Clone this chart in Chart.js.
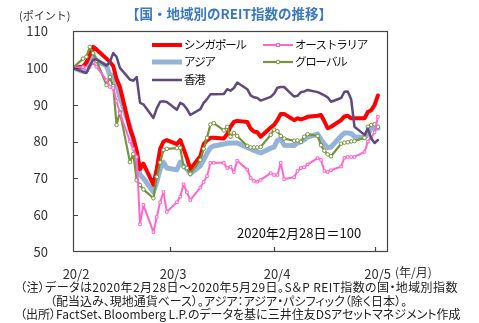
<!DOCTYPE html>
<html lang="ja">
<head>
<meta charset="utf-8">
<script src="https://cdn.jsdelivr.net/npm/chart.js@4"></script>
<style>
  body { margin: 0; background: #fff; }
  #wrap { position: relative; width: 479px; height: 323px; overflow: hidden; font-family: "Noto Sans CJK JP", sans-serif; color: #222; }
  #wrap canvas { position: absolute; left: 0; top: 0; }
  .txt { position: absolute; white-space: nowrap; line-height: 1; }
  .note { font-size: 12px; font-feature-settings: "palt"; }
</style>
</head>
<body>
<div id="wrap">
  <canvas id="chart" width="479" height="323"></canvas>
  <div class="txt" style="left:0;width:458px;text-align:center;top:7px;font-size:13.5px;font-weight:bold;color:#3a78c2">【国・地域別のREIT指数の推移】</div>
  <div class="txt" style="left:19px;top:10px;font-size:11px;color:#333">(ポイント)</div>
  <div class="txt" style="left:237px;top:226px;font-size:13px;color:#111">2020年2月28日＝100</div>
  <div class="txt" style="left:395px;top:266px;font-size:12px;color:#333">(年/月)</div>
  <div class="txt note" style="left:20px;top:281px;letter-spacing:0.4px">（注）データは2020年2月28日～2020年5月29日。S＆P REIT指数の国・地域別指数</div>
  <div class="txt note" style="left:50px;top:295px">（配当込み、現地通貨ベース）。アジア：アジア・パシフィック（除く日本）。</div>
  <div class="txt note" style="left:20px;top:308px">（出所）FactSet、Bloomberg L.P.のデータを基に三井住友DSアセットマネジメント作成</div>
</div>
<script>
// business days, 2020 (month/day)
const dates = [
  '2/28',
  '3/2', '3/3', '3/4', '3/5', '3/6', '3/9', '3/10', '3/11', '3/12', '3/13',
  '3/16', '3/17', '3/18', '3/19', '3/20', '3/23', '3/24', '3/25', '3/26', '3/27',
  '3/30', '3/31', '4/1', '4/2', '4/3', '4/6', '4/7', '4/8', '4/9', '4/10',
  '4/13', '4/14', '4/15', '4/16', '4/17', '4/20', '4/21', '4/22', '4/23', '4/24',
  '4/27', '4/28', '4/29', '4/30', '5/1', '5/4', '5/5', '5/6', '5/7', '5/8',
  '5/11', '5/12', '5/13', '5/14', '5/15', '5/18', '5/19', '5/20', '5/21', '5/22',
  '5/25', '5/26', '5/27', '5/28', '5/29'
];

const singapore = [100, 100.3, 101.5, 103.5, 105.7, 105, 102.5, 101.6, 100.5, 97, 94.8,
  83.5, 81, 77.5, 72.5, 74, 68.3, 72.5, 78, 80, 80.4,
  79.3, 80.4, 78, 75.5, 72.5, 76, 79.3, 80.3, 81, 81,
  80.8, 82, 84, 85.3, 85.6, 85.3, 83.5, 82.7, 82.5, 81.3,
  83.8, 84.5, 85.8, 87.5, 87.5, 85.8, 86.3, 86, 86.3, 86.7,
  87, 87.2, 85.5, 83.6, 84, 85.8, 86.8, 87, 86.3, 86.3,
  86.3, 88, 88.5, 89.9, 92.5];

const australia = [100, 100.2, 100, 100.3, 101.5, 100.3, 96.7, 94.8, 94.5, 91, 87.7,
  80, 78, 75.8, 57.5, 62.8, 55.4, 59.5, 63.5, 66.3, 60.9,
  63.5, 65, 68.4, 66.2, 64.1, 67.5, 69, 70.6, 74.2, 74.2,
  74.2, 72.8, 73.1, 71.7, 74.8, 72.4, 70.1, 69.3, 69.1, 69.6,
  71.4, 70.9, 70.9, 74.2, 69.8, 70.3, 72, 72.8, 73, 73.8,
  75.5, 75, 72, 71.7, 72.2, 73.2, 75.6, 75.8, 75.8, 75.8,
  77.2, 80, 81, 82.5, 86.7];

const asia = [100, 99, 99.2, 101.3, 103.5, 102, 100.5, 98, 98, 95.5, 92,
  84, 80.4, 74.5, 71, 70, 66.3, 69, 72.5, 74.4, 72.8,
  72.3, 74.4, 73.4, 72.5, 71.2, 73.4, 75, 76.8, 78.3, 78.8,
  79.3, 79.5, 79.6, 79.6, 79.6, 78.4, 78, 77.6, 77.2, 76.9,
  78.2, 78.5, 80.3, 80.7, 79, 78.9, 79.6, 79.9, 80.5, 81.2,
  82, 80.5, 79.3, 78.3, 78.5, 81.5, 82.3, 82.3, 82.2, 81.3,
  81, 82, 83.6, 83.6, 83.6];

const globalIdx = [100, 102.5, 103, 105.7, 104, 102, 95.3, 97.5, 95, 84.5, 88,
  74.4, 76.6, 69.5, 68.2, 67, 64.6, 70.4, 74.3, 77.7, 78,
  78.2, 78.3, 73.1, 72.8, 71.2, 75, 78, 81, 84.6, 85,
  83, 84, 81.3, 82.3, 81.5, 78.8, 78.4, 78.4, 78.4, 78.5,
  81.8, 83.2, 82.8, 81.5, 80.8, 80.2, 80.3, 79.9, 81.3, 82,
  81.5, 79, 77.5, 76.5, 76, 79.4, 79.7, 79.8, 80, 80.1,
  81, 84, 84.5, 84.7, 84];

const hongKong = [100, 98.9, 98.6, 100.5, 102.2, 102.3, 100.6, 101.6, 104, 103, 100,
  96.8, 96.5, 97.5, 90.5, 90.1, 86.4, 89, 90.8, 90.9, 90.7,
  88.6, 90.5, 90, 88.8, 87.2, 88.8, 90.5, 91.5, 92.8, 92.8,
  92.9, 94.2, 93.8, 94.5, 96, 94.2, 92.5, 92, 91.8, 91.1,
  92.1, 93, 94.6, 94.8, 94.8, 92.2, 92.4, 93.4, 93.6, 94,
  93.4, 93, 92.5, 92, 90.8, 91.8, 93.5, 93.6, 91.5, 84,
  81.8, 83.5, 80.8, 79.6, 80.4];

const xTickDates = ['2/28', '3/28', '4/28', '5/28'];
const xTickLabels = ['20/2', '20/3', '20/4', '20/5'];

function dayOffset(md) {
  const [m, d] = md.split('/').map(Number);
  return (Date.UTC(2020, m - 1, d) - Date.UTC(2020, 1, 28)) / 86400000;
}
const toPoints = vals => vals.map((v, i) => ({ x: dayOffset(dates[i]), y: v }));
const xTickDays = xTickDates.map(dayOffset);

function line(label, vals, color, width, order, marker) {
  return {
    label, data: toPoints(vals), borderColor: color, backgroundColor: color,
    borderWidth: width, tension: 0, order,
    borderJoinStyle: 'round', borderCapStyle: 'round',
    pointRadius: marker ? 1.8 : 0,
    pointStyle: marker || 'circle',
    pointBackgroundColor: '#fff', pointBorderColor: color, pointBorderWidth: 1
  };
}

// frame + inward tick marks
const framePlugin = {
  id: 'frame',
  afterDraw(chart) {
    const { ctx, chartArea: a, scales: { x, y } } = chart;
    ctx.save();
    ctx.strokeStyle = '#444';
    ctx.lineWidth = 1.2;
    ctx.strokeRect(a.left + 0.5, a.top + 0.5, a.right - a.left - 1, a.bottom - a.top - 1);
    ctx.beginPath();
    x.ticks.forEach(t => {
      if (t.value > x.min) {
        const px = Math.round(x.getPixelForValue(t.value)) + 0.5;
        ctx.moveTo(px, a.bottom); ctx.lineTo(px, a.bottom - 5);
      }
    });
    y.ticks.forEach(t => {
      if (t.value > y.min && t.value < y.max) {
        const py = Math.round(y.getPixelForValue(t.value)) + 0.5;
        ctx.moveTo(a.left, py); ctx.lineTo(a.left + 5, py);
      }
    });
    ctx.stroke();
    ctx.restore();
  }
};

// legend inside the plot, two columns
const legendPlugin = {
  id: 'insideLegend',
  afterDraw(chart) {
    const { ctx, chartArea: a } = chart;
    const colX = [a.left + 79, a.left + 190];
    const rowY = [a.top + 14, a.top + 31, a.top + 49];
    ctx.save();
    ctx.font = '11.5px "Noto Sans CJK JP"';
    ctx.letterSpacing = '-1.2px';
    ctx.textBaseline = 'middle';
    chart.data.datasets.forEach((ds, k) => {
      const x0 = colX[k % 2], yy = rowY[Math.floor(k / 2)];
      ctx.strokeStyle = ds.borderColor;
      ctx.lineWidth = ds.borderWidth;
      ctx.lineCap = 'butt';
      ctx.beginPath(); ctx.moveTo(x0, yy); ctx.lineTo(x0 + 30, yy); ctx.stroke();
      if (ds.pointRadius > 0) {
        ctx.fillStyle = '#fff'; ctx.lineWidth = 1;
        if (ds.pointStyle === 'rect') {
          ctx.fillRect(x0 + 13.5, yy - 1.5, 3, 3); ctx.strokeRect(x0 + 13.5, yy - 1.5, 3, 3);
        } else {
          ctx.beginPath(); ctx.arc(x0 + 15, yy, 1.8, 0, Math.PI * 2); ctx.fill(); ctx.stroke();
        }
      }
      ctx.fillStyle = '#111';
      ctx.fillText(ds.label, x0 + 32, yy);
    });
    ctx.restore();
  }
};

new Chart(document.getElementById('chart'), {
  type: 'line',
  data: {
    datasets: [
      line('シンガポール', singapore, '#ff0000', 4, 4),
      line('オーストラリア', australia, '#ff66cc', 2, 2, 'rect'),
      line('アジア', asia, '#95b3d7', 5, 5),
      line('グローバル', globalIdx, '#77933c', 2.2, 3, 'circle'),
      line('香港', hongKong, '#604a7b', 2.5, 1)
    ]
  },
  options: {
    responsive: false,
    animation: false,
    devicePixelRatio: 1,
    layout: { padding: { left: 0, top: 31, right: 91, bottom: 0 } },
    plugins: { legend: { display: false }, tooltip: { enabled: false } },
    scales: {
      x: {
        type: 'linear', min: 0, max: 94,
        grid: { display: false }, border: { display: false },
        afterBuildTicks: s => { s.ticks = xTickDays.map(v => ({ value: v })); },
        afterFit: s => { s.height = 71; },
        ticks: {
          autoSkip: false, maxRotation: 0, padding: 6, labelOffset: 3,
          color: '#333', font: { family: '"Noto Sans CJK JP"', size: 13 },
          callback: v => { const k = xTickDays.indexOf(v); return k >= 0 ? xTickLabels[k] : ''; }
        }
      },
      y: {
        min: 50, max: 110,
        grid: { display: false }, border: { display: false },
        afterFit: s => { s.width = 73; },
        ticks: {
          stepSize: 10, padding: 17,
          color: '#333', font: { family: '"Noto Sans CJK JP"', size: 13 }
        }
      }
    }
  },
  plugins: [framePlugin, legendPlugin]
});
</script>
</body>
</html>
